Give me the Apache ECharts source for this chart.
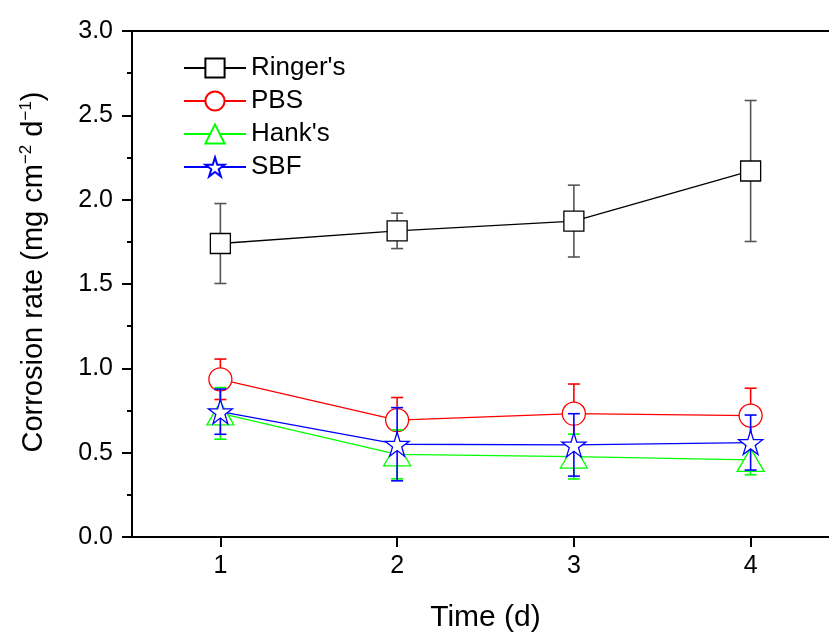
<!DOCTYPE html>
<html>
<head>
<meta charset="utf-8">
<script src="https://cdn.jsdelivr.net/npm/echarts@6/dist/echarts.min.js"></script>
<style>
html,body{margin:0;padding:0;background:#fff;}
#chart{width:829px;height:633px;}
</style>
</head>
<body>
<div id="chart"></div>
<script>
var categories = ['1', '2', '3', '4'];
var ringer = [1.74, 1.815, 1.873, 2.17];
var ringerErr = [0.237, 0.105, 0.213, 0.418];
var pbs = [0.935, 0.693, 0.731, 0.72];
var pbsErr = [0.12, 0.134, 0.176, 0.162];
var hank = [0.733, 0.49, 0.477, 0.457];
var hankErr = [0.153, 0.145, 0.133, 0.088];
var sbf = [0.743, 0.55, 0.546, 0.56];
var sbfErr = [0.134, 0.217, 0.185, 0.163];
var seriesNames = ["Ringer's", 'PBS', "Hank's", 'SBF'];

var FONT = '"Liberation Sans", Arial, sans-serif';
var starPath = 'path://M50,0 L61.2,34.5 L97.6,34.5 L68.2,55.9 L79.4,90.5 L50,69.1 L20.6,90.5 L31.8,55.9 L2.4,34.5 L38.8,34.5 Z';

function errSeries(vals, errs, color, z) {
  return {
    type: 'custom',
    z: z,
    silent: true,
    data: vals.map(function (v, i) { return [i, v, errs[i]]; }),
    encode: { x: 0, y: 1 },
    renderItem: function (params, api) {
      var x = api.value(0), v = api.value(1), e = api.value(2);
      var t = api.coord([x, v + e]);
      var b = api.coord([x, v - e]);
      var cap = 6;
      var st = { stroke: color, lineWidth: 1.6 };
      return {
        type: 'group',
        children: [
          { type: 'line', shape: { x1: t[0], y1: t[1], x2: b[0], y2: b[1] }, style: st },
          { type: 'line', shape: { x1: t[0] - cap, y1: t[1], x2: t[0] + cap, y2: t[1] }, style: st },
          { type: 'line', shape: { x1: b[0] - cap, y1: b[1], x2: b[0] + cap, y2: b[1] }, style: st }
        ]
      };
    }
  };
}

function lineSeries(name, vals, color, symbol, size, z) {
  return {
    name: name,
    type: 'line',
    z: z,
    data: vals,
    symbol: symbol,
    symbolSize: size,
    showAllSymbol: true,
    lineStyle: { color: color, width: 1.3 },
    itemStyle: { color: '#fff', borderColor: color, borderWidth: 1.3 }
  };
}

var chart = echarts.init(document.getElementById('chart'), null, { renderer: 'canvas' });
chart.setOption({
  animation: false,
  backgroundColor: '#fff',
  grid: {
    left: 132, top: 31, width: 707, bottom: 96,
    outerBoundsMode: 'none',
    containLabel: false,
    show: true, borderColor: '#000', borderWidth: 2, backgroundColor: 'transparent'
  },
  legend: {
    left: 178, top: 50, orient: 'vertical',
    itemWidth: 62, itemHeight: 24, itemGap: 7,
    data: seriesNames,
    textStyle: { fontFamily: FONT, fontSize: 26, color: '#000' }
  },
  xAxis: {
    type: 'category',
    data: categories,
    boundaryGap: true,
    name: 'Time (d)',
    nameLocation: 'middle',
    nameGap: 66,
    nameTextStyle: { fontFamily: FONT, fontSize: 30, color: '#000' },
    axisLine: { lineStyle: { color: '#000', width: 2 } },
    axisTick: { show: true, alignWithLabel: true, inside: false, length: 10, lineStyle: { color: '#000', width: 2 } },
    axisLabel: { fontFamily: FONT, fontSize: 25, color: '#000', margin: 17 },
    splitLine: { show: false }
  },
  yAxis: {
    type: 'value',
    min: 0, max: 3, interval: 0.5,
    name: 'Corrosion rate (mg cm{sup|\u22122} d{sup|\u22121})',
    nameLocation: 'middle',
    nameGap: 82,
    nameRotate: 90,
    nameTextStyle: {
      fontFamily: FONT, fontSize: 29, color: '#000',
      padding: [0, 0, 0, 24],
      rich: { sup: { fontFamily: FONT, fontSize: 17, color: '#000', padding: [0, 0, 15, 0] } }
    },
    axisLine: { show: true, lineStyle: { color: '#000', width: 2 } },
    axisTick: { show: true, inside: false, length: 10, lineStyle: { color: '#000', width: 2 } },
    minorTick: { show: true, splitNumber: 2, length: 5, lineStyle: { color: '#000', width: 2 } },
    axisLabel: {
      fontFamily: FONT, fontSize: 25, color: '#000', margin: 19,
      formatter: function (v) { return v.toFixed(1); }
    },
    splitLine: { show: false }
  },
  series: [
    errSeries(ringer, ringerErr, '#555', 2),
    lineSeries(seriesNames[0], ringer, '#000', 'rect', 20, 3),
    errSeries(pbs, pbsErr, '#ff0000', 4),
    lineSeries(seriesNames[1], pbs, '#ff0000', 'circle', 23, 5),
    errSeries(hank, hankErr, '#00ff00', 6),
    lineSeries(seriesNames[2], hank, '#00ff00', 'triangle', [27, 23], 7),
    errSeries(sbf, sbfErr, '#0000ff', 8),
    lineSeries(seriesNames[3], sbf, '#0000ff', starPath, 24, 9)
  ]
});
</script>
</body>
</html>
